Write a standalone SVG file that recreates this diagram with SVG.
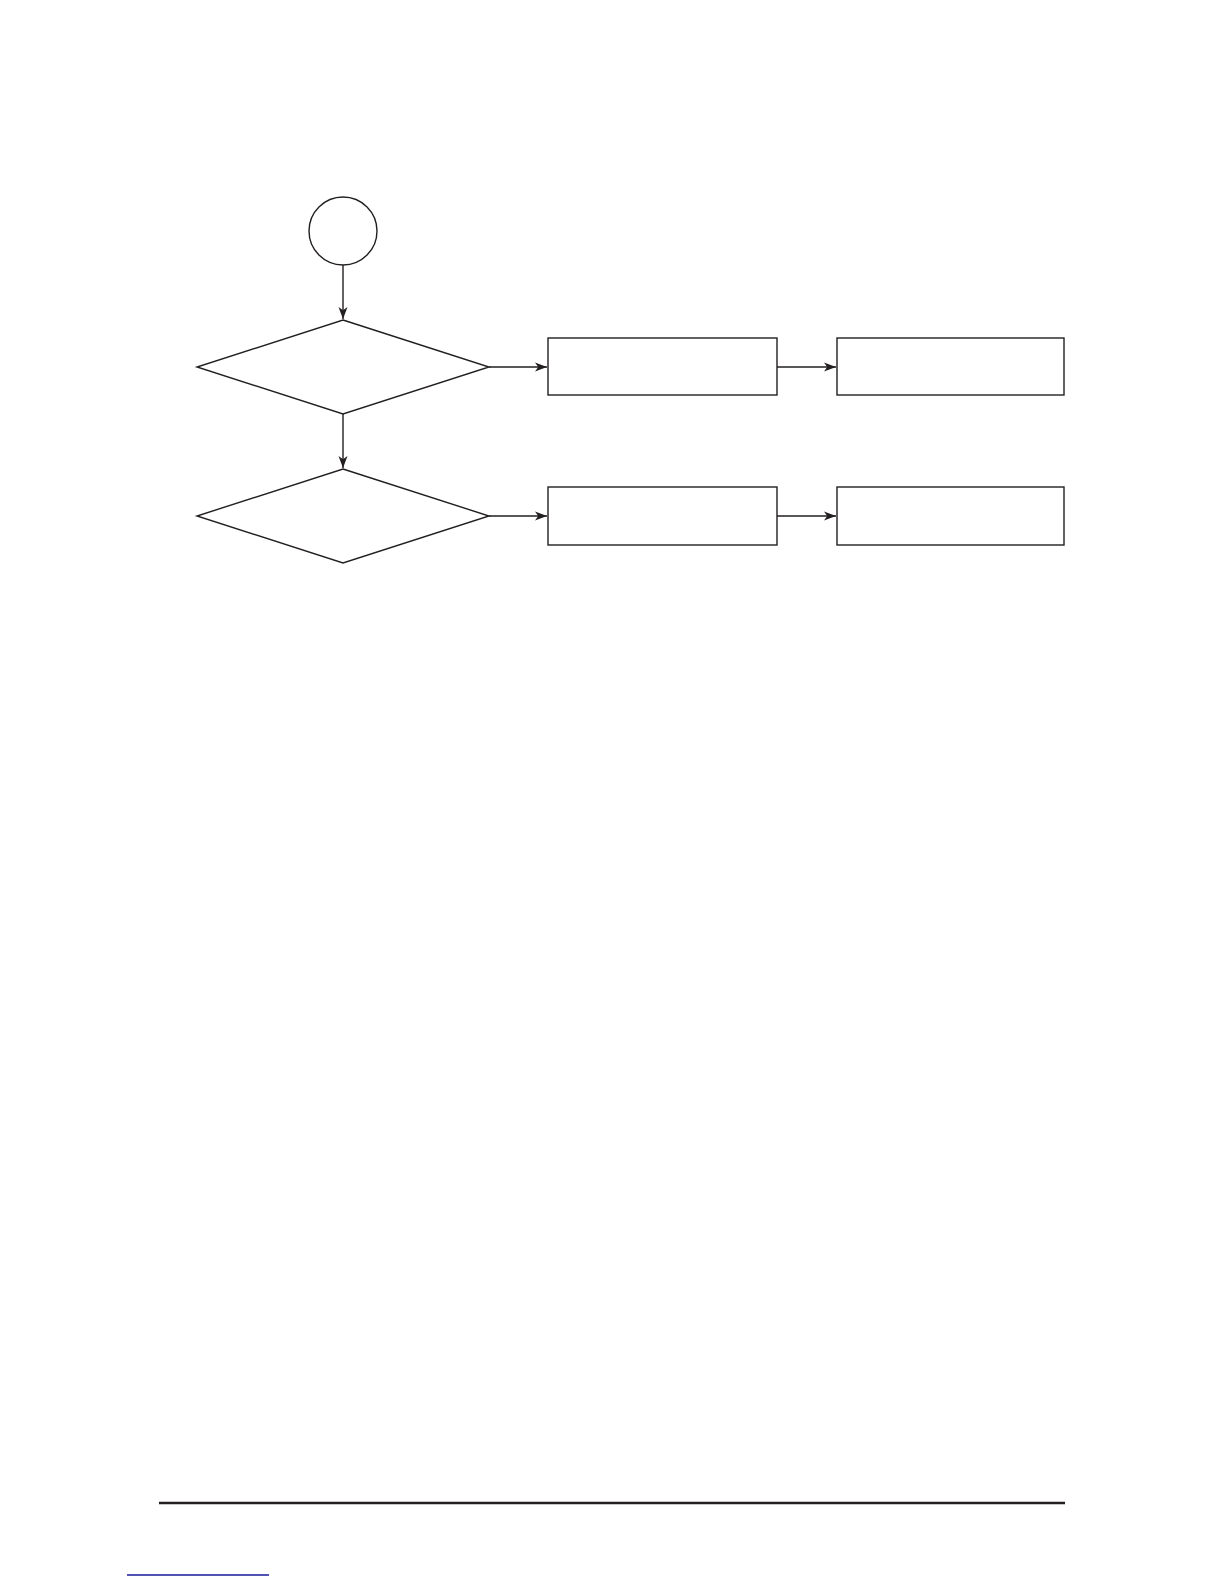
<svg xmlns="http://www.w3.org/2000/svg" width="1224" height="1584" viewBox="0 0 1224 1584">
  <style>
    .shape { fill: #ffffff; stroke: #231f20; stroke-width: 1.4; }
    .conn { fill: none; stroke: #231f20; stroke-width: 1.4; marker-end: url(#arrow); }
    .rule { stroke: #231f20; stroke-width: 2.5; }
    .link { stroke: #1a1a9a; stroke-width: 1.3; }
  </style>
  <defs>
    <marker id="arrow" markerUnits="userSpaceOnUse" markerWidth="14" markerHeight="12" refX="12" refY="5" orient="auto">
      <path d="M0,0.5 L12,5 L0,9.5 L3.2,5 Z" fill="#231f20"/>
    </marker>
  </defs>
  <rect width="1224" height="1584" fill="#ffffff"/>

  <g id="connectors">
    <line class="conn" x1="343" y1="265" x2="343" y2="319"/>
    <line class="conn" x1="343" y1="414" x2="343" y2="468"/>
    <line class="conn" x1="489" y1="367" x2="547" y2="367"/>
    <line class="conn" x1="777" y1="367" x2="836" y2="367"/>
    <line class="conn" x1="489" y1="516" x2="547" y2="516"/>
    <line class="conn" x1="777" y1="516" x2="836" y2="516"/>
  </g>

  <g id="start">
    <circle class="shape" cx="343" cy="231" r="34"/>
  </g>
  <g id="decision1">
    <polygon class="shape" points="343,320 489,367 343,414 197,367"/>
  </g>
  <g id="decision2">
    <polygon class="shape" points="343,469 489,516 343,563 197,516"/>
  </g>
  <g id="box1">
    <rect class="shape" x="548" y="338" width="229" height="57"/>
  </g>
  <g id="box2">
    <rect class="shape" x="837" y="338" width="227" height="57"/>
  </g>
  <g id="box3">
    <rect class="shape" x="548" y="487" width="229" height="58"/>
  </g>
  <g id="box4">
    <rect class="shape" x="837" y="487" width="227" height="58"/>
  </g>

  <line class="rule" x1="159" y1="1503" x2="1065" y2="1503"/>
  <line class="link" x1="127" y1="1575" x2="269" y2="1575"/>
</svg>
